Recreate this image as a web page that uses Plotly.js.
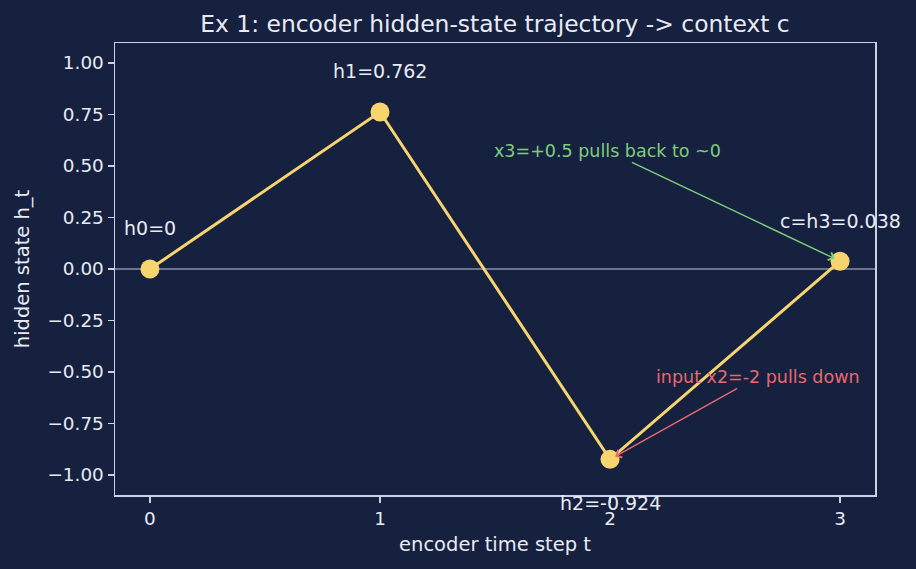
<!DOCTYPE html>
<html>
<head>
<meta charset="utf-8">
<script src="https://cdn.plot.ly/plotly-3.0.1.min.js"></script>
<style>html,body{margin:0;padding:0;background:#16203f;}#chart{width:916px;height:569px;}</style>
</head>
<body>
<div id="chart"></div>
<script>
// Data
const timeSteps = [0, 1, 2, 3];
const hiddenStates = [0, 0.762, -0.924, 0.038];
const pointLabels = ["h0=0", "h1=0.762", "h2=-0.924", "c=h3=0.038"];
const labelShift = [41, 41, -44, 40];
const yTicks = [-1.0, -0.75, -0.5, -0.25, 0, 0.25, 0.5, 0.75, 1.0];
const xTicks = [0, 1, 2, 3];
const noteGreen = {text: "x3=+0.5 pulls back to ~0", x: 3, y: 0.038, tx: 1.99, ty: 0.573};
const noteRed = {text: "input x2=-2 pulls down", x: 2, y: -0.924, tx: 2.643, ty: -0.524};

const bg = "#16203f";
const fg = "#e8ebf3";
const spine = "#c9d1e6";
const gold = "#f6d56f";
const font = "DejaVu Sans, sans-serif";

const trace = {
  x: timeSteps, y: hiddenStates, type: "scatter", mode: "lines+markers",
  line: {color: gold, width: 3},
  marker: {color: gold, size: 19},
  hoverinfo: "skip", showlegend: false, cliponaxis: false
};

const annotations = pointLabels.map((t, i) => ({
  x: timeSteps[i], y: hiddenStates[i], xref: "x", yref: "y",
  text: t, showarrow: false, xanchor: "center", yanchor: "middle",
  yshift: labelShift[i], font: {family: font, size: 19, color: fg}
}));

function arrowNote(n, color) {
  return {
    x: n.x, y: n.y, xref: "x", yref: "y", axref: "x", ayref: "y",
    ax: n.tx, ay: n.ty, text: n.text, showarrow: true,
    arrowhead: 4, arrowsize: 1.2, arrowwidth: 1.4, arrowcolor: color,
    standoff: 6, startstandoff: 0,
    font: {family: font, size: 17.5, color: color}
  };
}
annotations.push(arrowNote(noteGreen, "#7fcf7a"));
annotations.push(arrowNote(noteRed, "#e8686f"));

const layout = {
  width: 916, height: 569,
  paper_bgcolor: bg, plot_bgcolor: bg,
  margin: {l: 115, r: 41, t: 43, b: 74, pad: 0},
  font: {family: font, color: fg, size: 18},
  title: {text: "Ex 1: encoder hidden-state trajectory -> context c",
    x: 0.5, xref: "paper", xanchor: "center", y: 1 - 24 / 569, yref: "container", yanchor: "middle",
    font: {family: font, size: 23.4, color: fg}},
  xaxis: {
    range: [-0.152, 3.152], tickvals: xTicks, ticktext: xTicks.map(String),
    showgrid: false, zeroline: false, showline: true, mirror: true,
    linecolor: spine, linewidth: 1.5, ticks: "outside", ticklen: 6, tickwidth: 1.5, tickcolor: spine,
    tickfont: {family: font, size: 18.4, color: fg},
    title: {text: "encoder time step t", font: {family: font, size: 19.5, color: fg}, standoff: 10}
  },
  yaxis: {
    range: [-1.097, 1.097], tickvals: yTicks, tickformat: ".2f",
    showgrid: false, zeroline: false, showline: true, mirror: true,
    linecolor: spine, linewidth: 1.5, ticks: "outside", ticklen: 6, tickwidth: 1.5, tickcolor: spine,
    tickfont: {family: font, size: 18.4, color: fg},
    title: {text: "hidden state h_t", font: {family: font, size: 19.5, color: fg}, standoff: 12}
  },
  shapes: [{type: "line", xref: "paper", yref: "y", x0: 0, x1: 1, y0: 0, y1: 0,
    line: {color: "#8891aa", width: 1.5}, layer: "below"}],
  annotations: annotations
};

Plotly.newPlot("chart", [trace], layout, {displayModeBar: false, staticPlot: true});
</script>
</body>
</html>
